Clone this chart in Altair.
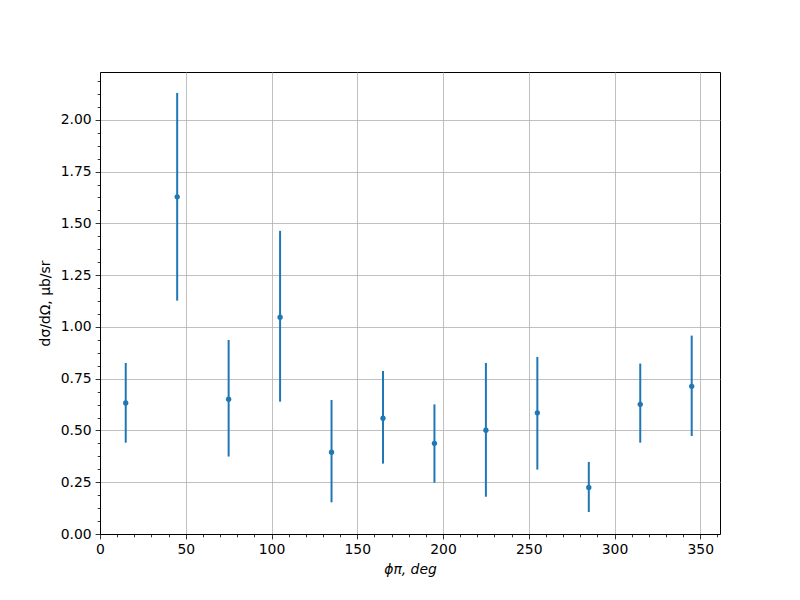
import altair as alt
import pandas as pd

# Data
phi = [15, 45, 75, 105, 135, 165, 195, 225, 255, 285, 315, 345]
xsec = [0.633, 1.628, 0.651, 1.047, 0.395, 0.559, 0.438, 0.501, 0.585, 0.225, 0.626, 0.713]
err_lo = [0.441, 1.127, 0.374, 0.639, 0.153, 0.340, 0.248, 0.180, 0.311, 0.106, 0.441, 0.473]
err_hi = [0.826, 2.130, 0.937, 1.464, 0.647, 0.787, 0.626, 0.826, 0.855, 0.348, 0.823, 0.958]

x_ticks = [float(i * 10) for i in range(0, 37)]
y_ticks = [i * 0.0625 for i in range(0, 36)]

df = pd.DataFrame({"phi": phi, "xsec": xsec, "lo": err_lo, "hi": err_hi})

color = "#1f77b4"
font = "DejaVu Sans"

maj_x = "abs(datum.value/50 - round(datum.value/50)) < 1e-6"
x_axis = alt.Axis(
    values=x_ticks,
    labelExpr=f"{maj_x} ? format(datum.value, 'd') : ''",
    tickSize={"condition": {"test": maj_x, "value": 4.9}, "value": 2.8},
    gridOpacity={"condition": {"test": maj_x, "value": 1}, "value": 0},
    grid=True, gridColor="#b0b0b0", gridWidth=0.8,
    tickColor="black", tickWidth=0.8, domainColor="black", domainWidth=1,
    labelFont=font, labelFontSize=13.9, labelColor="black", labelPadding=4,
    labelFlush=False, labelOverlap=False,
    title="ϕπ, deg", titleFont=font, titleFontSize=13.9, titleFontWeight="normal",
    titleFontStyle="italic", titleColor="black", titlePadding=6,
)
maj_y = "abs(datum.value*4 - round(datum.value*4)) < 1e-6"
y_axis = alt.Axis(
    values=y_ticks,
    labelExpr=f"{maj_y} ? format(datum.value, '.2f') : ''",
    tickSize={"condition": {"test": maj_y, "value": 4.9}, "value": 2.8},
    gridOpacity={"condition": {"test": maj_y, "value": 1}, "value": 0},
    grid=True, gridColor="#b0b0b0", gridWidth=0.8,
    tickColor="black", tickWidth=0.8, domainColor="black", domainWidth=1,
    labelFont=font, labelFontSize=13.9, labelColor="black", labelPadding=4,
    labelFlush=False, labelOverlap=False,
    title="dσ/dΩ, μb/sr", titleFont=font, titleFontSize=13.9, titleFontWeight="normal",
    titleColor="black", titlePadding=8,
)

xs = alt.Scale(domain=[0, 361.5], nice=False, zero=False)
ys = alt.Scale(domain=[0, 2.231], nice=False, zero=False)

bars = alt.Chart(df).mark_rule(color=color, strokeWidth=2).encode(
    x=alt.X("phi:Q", scale=xs, axis=x_axis),
    y=alt.Y("lo:Q", scale=ys, axis=y_axis),
    y2="hi:Q",
)
points = alt.Chart(df).mark_circle(color=color, size=28, opacity=1).encode(
    x=alt.X("phi:Q", scale=xs, axis=x_axis),
    y=alt.Y("xsec:Q", scale=ys, axis=y_axis),
)

chart = alt.layer(bars, points).properties(
    width=620, height=462,
    autosize=alt.AutoSizeParams(type="none"),
    padding={"left": 92, "top": 64, "right": 72, "bottom": 58},
    background="white",
).configure_view(stroke="black", strokeWidth=1)

chart.save("out.html", embed_options={"renderer": "svg", "actions": False})
